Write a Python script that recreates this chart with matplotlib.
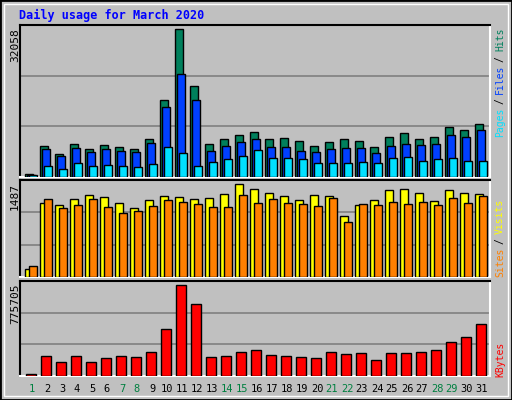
import matplotlib
matplotlib.use("Agg")
import matplotlib.pyplot as plt
from matplotlib.patches import Rectangle

days = list(range(1, 32))
hits = [580, 6820, 5080, 7250, 6160, 7030, 6600, 6160, 8340, 16820, 32058, 19870, 7250, 8340, 9210, 9860,
        8340, 8560, 7900, 6820, 7690, 8340, 7900, 6600, 8770, 9640, 8340, 8770, 10950, 10300, 11600]
files = [510, 6160, 4640, 6380, 5510, 6160, 5730, 5510, 7470, 15300, 22480, 16820, 5730, 6820, 7690, 8340,
         6600, 6600, 5730, 5510, 6160, 6380, 6380, 5290, 6820, 7250, 7030, 7250, 9210, 8770, 10300]
pages = [360, 2470, 1810, 3120, 2470, 2680, 2470, 2250, 2900, 6600, 5290, 2470, 3340, 3990, 4640, 5950,
         4200, 4200, 3990, 3120, 3120, 3120, 3340, 3120, 4200, 4420, 3550, 3990, 4200, 3550, 3550]
visits = [129, 1180, 1148, 1245, 1310, 1277, 1180, 1100, 1229, 1294, 1277, 1245, 1261, 1326, 1487, 1407,
          1342, 1294, 1229, 1310, 1294, 970, 1148, 1229, 1391, 1407, 1342, 1213, 1391, 1342, 1326]
sites = [178, 1245, 1100, 1148, 1245, 1116, 1019, 1051, 1132, 1229, 1197, 1164, 1116, 1116, 1310, 1180,
         1245, 1180, 1164, 1132, 1261, 889, 1164, 1148, 1197, 1164, 1197, 1148, 1261, 1180, 1294]
kbytes = [19800, 172700, 121700, 172700, 121700, 155700, 172700, 164200, 206700, 402000, 775705, 614300,
          164200, 172700, 206700, 223600, 181200, 172700, 164200, 155700, 206700, 189700, 198200, 138700,
          198200, 198200, 206700, 223600, 291600, 334100, 444500]
weekends = {1, 7, 8, 14, 15, 21, 22, 28, 29}

W, H = 512, 400
fig = plt.figure(figsize=(W / 100, H / 100), dpi=100)
fig.patch.set_facecolor("#c0c0c0")
mono = "DejaVu Sans Mono"

fig.add_artist(Rectangle((0, 0), 1, 1, transform=fig.transFigure, fill=False, ec="black", lw=2))
fig.add_artist(Rectangle((4 / W, 4 / H), 1 - 8 / W, 1 - 8 / H, transform=fig.transFigure,
                         fill=False, ec="white", lw=1))

X0, X1 = 20, 490
def make_ax(top, bottom):
    ax = fig.add_axes([X0 / W, 1 - bottom / H, (X1 - X0) / W, (bottom - top) / H])
    ax.set_facecolor("#c0c0c0")
    ax.set_xlim(0, X1 - X0)
    ax.set_xticks([]); ax.set_yticks([])
    for s in ["top", "left"]:
        ax.spines[s].set_color("black")
    for s in ["bottom", "right"]:
        ax.spines[s].set_color("white")
    for s in ax.spines.values():
        s.set_linewidth(1.5)
    return ax

sw = 15.0
def bars(ax, vals, off, wid, color):
    ax.bar([(d - 1) * sw + off for d in days], vals, width=wid, align="edge",
           color=color, edgecolor="black", linewidth=1, zorder=3)

def grid(ax, top):
    ax.set_ylim(0, top)
    for f in (1 / 3, 2 / 3):
        ax.axhline(top * f, color="#808080", lw=1.2, zorder=1)

ax1 = make_ax(25, 177)
grid(ax1, max(hits) * 1.03)
bars(ax1, hits, 5, 7.5, "#00805c")
bars(ax1, files, 7, 7.5, "#0040ff")
bars(ax1, pages, 9, 7.5, "#00e0ff")

ax2 = make_ax(180, 277)
grid(ax2, max(visits) * 1.045)
bars(ax2, visits, 5, 7.5, "#ffff00")
bars(ax2, sites, 9, 7.5, "#ff8000")

ax3 = make_ax(281, 376)
grid(ax3, max(kbytes) * 1.04)
bars(ax3, kbytes, 6, 10, "#ff0000")

fig.text(19 / W, 1 - 15 / H, "Daily usage for March 2020", color="#0000ff", fontsize=8.5,
         family=mono, fontweight="bold", va="center")
for val, y in [(max(hits), 28), (max(visits), 183), (max(kbytes), 283)]:
    fig.text(15 / W, 1 - y / H, str(val), rotation=90, fontsize=8, family=mono, va="top", ha="center")

def right_label(parts, y_bottom):
    y = y_bottom
    for txt, col in parts:
        fig.text(500 / W, 1 - y / H, txt, rotation=90, color=col, fontsize=7, family=mono,
                 va="bottom", ha="center")
        y -= 5.5 * len(txt) + 5

right_label([("Pages", "#00e0ff"), ("/", "black"), ("Files", "#0040ff"), ("/", "black"), ("Hits", "#00805c")], 137)
right_label([("Sites", "#ff8000"), ("/", "black"), ("Visits", "#ffff00")], 277)
right_label([("KBytes", "#ff0000")], 377)

for d in days:
    x = (X0 + (d - 1) * sw + 12) / W
    fig.text(x, 1 - 389 / H, str(d), fontsize=7.5, family=mono, ha="center", va="center",
             color="#008040" if d in weekends else "black")

fig.savefig("out.png", dpi=100, facecolor=fig.get_facecolor())
